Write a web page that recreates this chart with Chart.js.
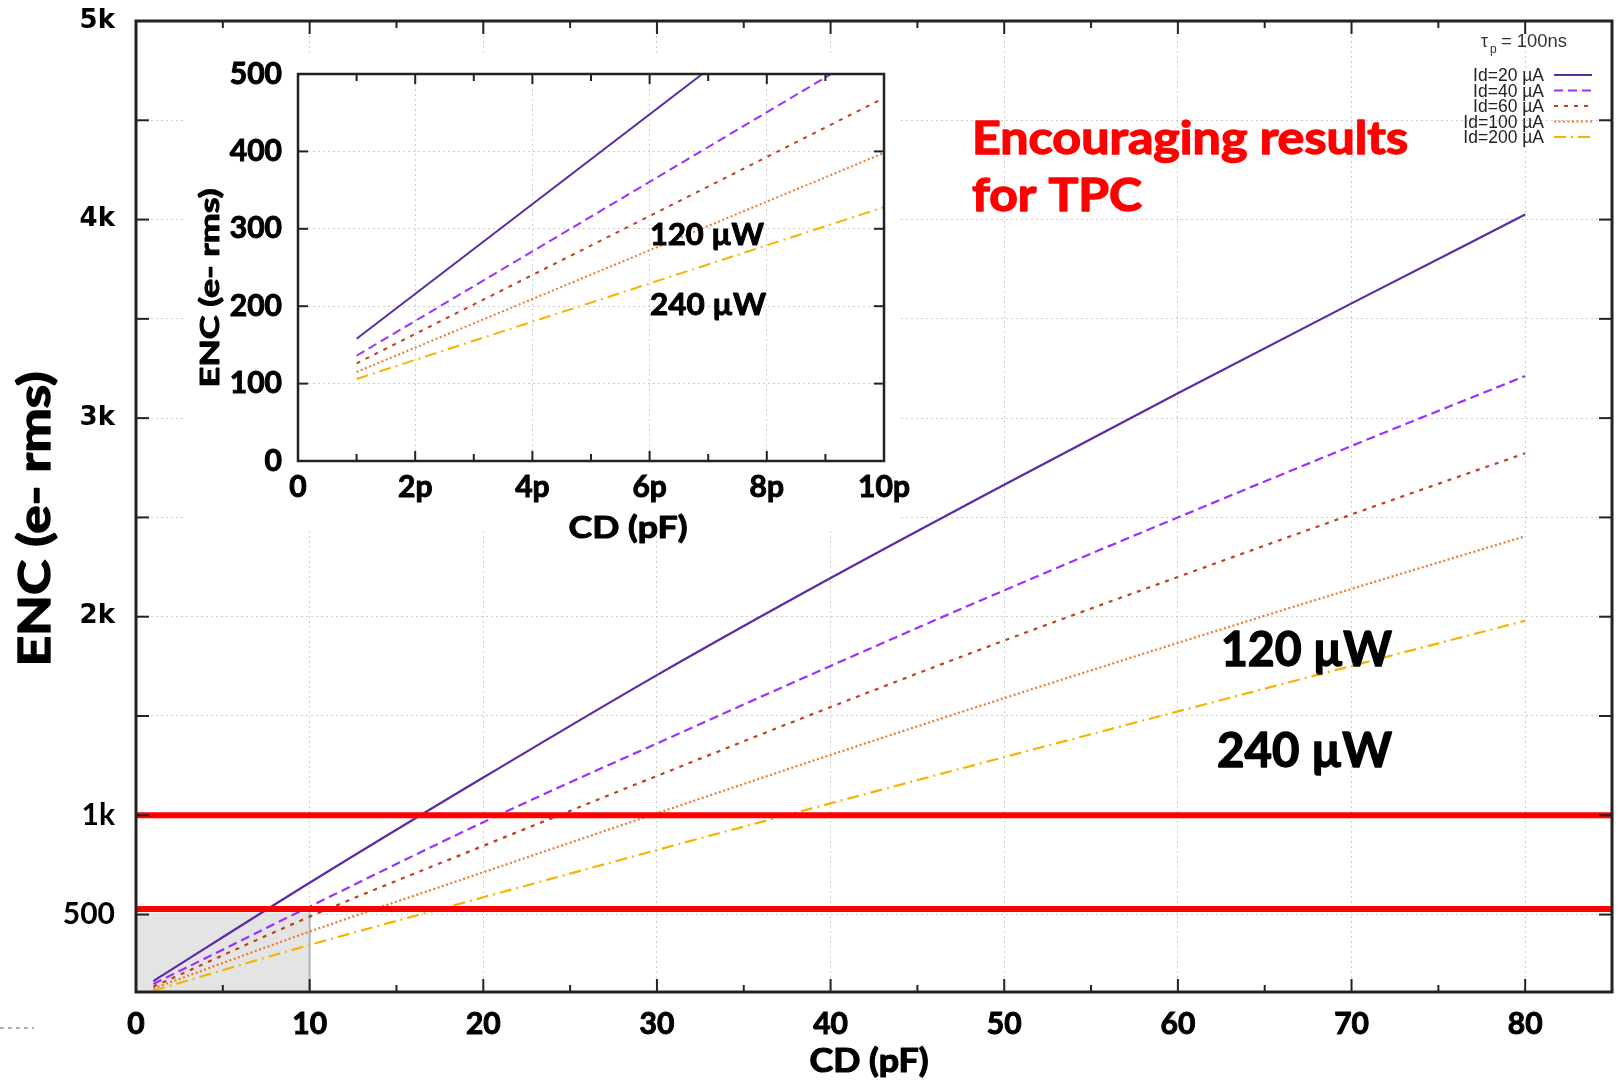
<!DOCTYPE html>
<html>
<head>
<meta charset="utf-8">
<title>ENC vs CD</title>
<script src="https://cdn.jsdelivr.net/npm/chart.js@4.4.1/dist/chart.umd.min.js"></script>
<style>
  html, body { margin: 0; padding: 0; background: #fff; }
  #page { position: relative; width: 1621px; height: 1080px; overflow: hidden; background: #fff; }
  #main { position: absolute; left: 0; top: 0; }
  #inset { position: absolute; left: 185px; top: 55px; }
</style>
</head>
<body>
<div id="page">
  <canvas id="main" width="1621" height="1080"></canvas>
  <canvas id="inset" width="740" height="490"></canvas>
</div>
<script>
// drain currents, one curve each
const seriesLabels = ['Id=20 µA', 'Id=40 µA', 'Id=60 µA', 'Id=100 µA', 'Id=200 µA'];

// main plot: ENC (e- rms) read at each CD (pF)
const cdMain = [1, 10, 20, 30, 40, 50, 60, 70, 80];
const encId20 = [165, 660, 1190, 1706, 2195, 2665, 3125, 3578, 4025];
const encId40 = [150, 540, 965, 1362, 1752, 2133, 2500, 2860, 3212];
const encId60 = [137, 489, 846, 1198, 1545, 1880, 2200, 2515, 2823];
const encId100 = [128, 414, 713, 1010, 1304, 1590, 1868, 2140, 2405];
const encId200 = [117, 347, 587, 825, 1060, 1293, 1523, 1752, 1980];

const mainYTicks = [500, 1000, 1500, 2000, 2500, 3000, 3500, 4000, 4500, 5000];
const mainYLabels = ['500', '1k', '', '2k', '', '3k', '', '4k', '', '5k'];
const limitLines = [1000, 528];     // red ENC limits
const zoomBox = [10, 510];          // shaded CD / ENC corner shown in the inset

// inset: 0-10 pF zoom (start and end of each curve)
const insetCd = [[1, 6.9], [1, 9.1], [1, 10], [1, 10], [1, 10]];
const insetEnc = [[158, 500], [136, 500], [126, 469], [115, 398], [106, 328]];
const insetXLabels = ['0', '', '2p', '', '4p', '', '6p', '', '8p', '', '10p'];

const lineColors = ['#5b2aa6', '#9b30ff', '#c0401e', '#ec7a2e', '#f4b400'];
const lineDashes = [[], [9, 5], [4, 6], [2, 2.5], [12, 5, 2, 5]];

const BOLD = 'Lato';

function line(ctx, x1, y1, x2, y2) {
  ctx.beginPath();
  ctx.moveTo(x1, y1);
  ctx.lineTo(x2, y2);
  ctx.stroke();
}

// text stretched to a given width (Gill Sans is not installed), optional extra weight
function text(ctx, s, x, y, font, color, align, width, heavy) {
  ctx.save();
  ctx.font = font;
  ctx.fillStyle = color;
  ctx.textAlign = 'left';
  ctx.textBaseline = 'alphabetic';
  const w = ctx.measureText(s).width;
  const sx = width ? width / w : 1;
  const dw = w * sx;
  const x0 = align === 'center' ? x - dw / 2 : align === 'right' ? x - dw : x;
  ctx.translate(x0, y);
  ctx.scale(sx, 1);
  if (heavy) {
    ctx.strokeStyle = color;
    ctx.lineWidth = heavy;
    ctx.lineJoin = 'round';
    ctx.strokeText(s, 0, 0);
  }
  ctx.fillText(s, 0, 0);
  ctx.restore();
}

function vtext(ctx, s, x, y, font, width, heavy) {
  ctx.save();
  ctx.translate(x, y);
  ctx.rotate(-Math.PI / 2);
  text(ctx, s, 0, 0, font, '#000', 'center', width, heavy);
  ctx.restore();
}

// gnuplot style: box frame with ticks pointing inwards
function drawFrame(chart, o) {
  const {ctx, chartArea: a, scales: {x, y}} = chart;
  ctx.save();
  ctx.strokeStyle = '#222';
  ctx.setLineDash([]);
  ctx.lineWidth = o.tickWidth;
  x.ticks.forEach(t => {
    const px = x.getPixelForValue(t.value);
    const len = t.value % o.xMajor === 0 ? o.major : o.minor;
    line(ctx, px, a.bottom, px, a.bottom - len);
    line(ctx, px, a.top, px, a.top + len);
  });
  y.ticks.forEach(t => {
    const py = y.getPixelForValue(t.value);
    line(ctx, a.left, py, a.left + o.major, py);
    line(ctx, a.right, py, a.right - o.major, py);
  });
  ctx.lineWidth = o.frameWidth;
  ctx.strokeRect(a.left, a.top, a.right - a.left, a.bottom - a.top);
  ctx.restore();
}

function makeDatasets(xs, ys, width) {
  return ys.map((vals, i) => ({
    label: seriesLabels[i],
    data: vals.map((v, j) => ({x: xs[i] ? xs[i][j] : cdMain[j], y: v})),
    borderColor: lineColors[i],
    borderDash: lineDashes[i],
    borderWidth: width,
    pointRadius: 0,
    cubicInterpolationMode: 'monotone',
    fill: false
  }));
}

// keep the plot box where the layout padding puts it
function noXPad(s, h) { s.height = h; s.paddingLeft = 0; s.paddingRight = 0; }
function noYPad(s, w) { s.width = w; s.paddingTop = 0; s.paddingBottom = 0; }

function whiteBg(w, h) {
  return {
    id: 'whiteBg',
    beforeDraw(chart) {
      const ctx = chart.ctx;
      ctx.save();
      ctx.fillStyle = '#fff';
      ctx.fillRect(0, 0, w || chart.width, h || chart.height);
      ctx.restore();
    }
  };
}

const mainDecor = {
  id: 'mainDecor',
  beforeDatasetsDraw(chart) {
    const {ctx, chartArea: a, scales: {x, y}} = chart;
    const bx = x.getPixelForValue(zoomBox[0]);
    const by = y.getPixelForValue(zoomBox[1]);
    ctx.save();
    ctx.fillStyle = '#e4e4e4';
    ctx.fillRect(a.left, by, bx - a.left, a.bottom - by);
    ctx.strokeStyle = '#b4b4b4';
    ctx.lineWidth = 2;
    line(ctx, bx, by, bx, a.bottom);
    ctx.restore();
  },
  afterDatasetsDraw(chart) {
    const {ctx, chartArea: a, scales: {y}} = chart;
    ctx.save();
    // red limit lines
    ctx.strokeStyle = '#ff0000';
    ctx.lineWidth = 6;
    limitLines.forEach(v => {
      const py = y.getPixelForValue(v);
      line(ctx, a.left, py, a.right, py);
    });

    // legend, top right
    const lf = '17.5px "Liberation Sans"';
    text(ctx, 'τ', 1481, 47, lf, '#333', 'left');
    text(ctx, 'p', 1490, 53, '12px "Liberation Sans"', '#333', 'left');
    text(ctx, '= 100ns', 1501, 47, lf, '#333', 'left', 66);
    chart.data.datasets.forEach((ds, i) => {
      const base = 81 + i * 15.5;
      text(ctx, ds.label, 1544, base, lf, '#222', 'right');
      ctx.strokeStyle = ds.borderColor;
      ctx.lineWidth = 2;
      ctx.setLineDash(ds.borderDash);
      line(ctx, 1554, base - 6, 1592, base - 6);
    });
    ctx.setLineDash([]);

    // annotations
    const big = 'bold 46px ' + BOLD;
    text(ctx, 'Encouraging results', 972, 154, big, '#ff0000', 'left', 436, 1.4);
    text(ctx, 'for TPC', 972, 211, big, '#ff0000', 'left', 170, 1.4);
    text(ctx, '120 µW', 1221, 666, 'bold 47px ' + BOLD, '#000', 'left', 171, 1.4);
    text(ctx, '240 µW', 1217, 767, 'bold 47px ' + BOLD, '#000', 'left', 175, 1.4);

    // axis titles
    text(ctx, 'CD (pF)', 869, 1072, 'bold 33px ' + BOLD, '#000', 'center', 119, 1.2);
    vtext(ctx, 'ENC (e- rms)', 50, 519, 'bold 44px ' + BOLD, 295, 1.4);

    // slide decoration, bottom left
    ctx.strokeStyle = '#9fb4cc';
    ctx.lineWidth = 2;
    ctx.setLineDash([4, 4]);
    line(ctx, 0, 1028, 34, 1028);
    ctx.restore();

    drawFrame(chart, {xMajor: 10, major: 13, minor: 7, tickWidth: 2, frameWidth: 3});
  }
};

const insetDecor = {
  id: 'insetDecor',
  afterDatasetsDraw(chart) {
    const ctx = chart.ctx;
    text(ctx, '120 µW', 465, 190, 'bold 30px ' + BOLD, '#000', 'left', 114, 1);
    text(ctx, '240 µW', 465, 260, 'bold 30px ' + BOLD, '#000', 'left', 116, 1);
    text(ctx, 'CD (pF)', 443, 483, 'bold 30px ' + BOLD, '#000', 'center', 119, 1);
    vtext(ctx, 'ENC (e- rms)', 34, 233, 'bold 26px ' + BOLD, 199, 1);
    drawFrame(chart, {xMajor: 2, major: 10, minor: 7, tickWidth: 2, frameWidth: 2.5});
  }
};

const gridColor = '#cdcdcd';
const clear = 'rgba(0,0,0,0)';
const tickFont = {family: BOLD, weight: 'bold', size: 30};

new Chart(document.getElementById('main').getContext('2d'), {
  type: 'line',
  data: {
    datasets: makeDatasets([], [encId20, encId40, encId60, encId100, encId200], 2.2)
  },
  options: {
    responsive: false,
    animation: false,
    devicePixelRatio: 1,
    layout: {padding: {top: 21, right: 9, left: 0, bottom: 0}},
    plugins: {legend: {display: false}, tooltip: {enabled: false}},
    scales: {
      x: {
        type: 'linear',
        min: 0,
        max: 85,
        afterFit: s => noXPad(s, 88),
        ticks: {
          stepSize: 5,
          autoSkip: false,
          maxRotation: 0,
          padding: 14,
          color: '#000',
          textStrokeColor: '#000',
          textStrokeWidth: 1,
          font: tickFont,
          callback: v => (v % 10 === 0 && v <= 80 ? String(v) : '')
        },
        grid: {
          drawTicks: false,
          lineWidth: 1,
          color: c => (c.tick && c.tick.value % 10 === 0 && c.tick.value > 0 && c.tick.value <= 80 ? gridColor : clear)
        },
        border: {display: false, dash: [2, 3]}
      },
      y: {
        type: 'linear',
        min: 110,
        max: 5000,
        afterFit: s => noYPad(s, 136),
        afterBuildTicks: s => { s.ticks = mainYTicks.map(v => ({value: v})); },
        ticks: {
          padding: 21,
          color: '#000',
          font: c => (c.tick && c.tick.value <= 1000
            ? tickFont
            : {family: 'DejaVu Sans', weight: 'bold', size: 26}),
          callback: (v, i) => mainYLabels[i]
        },
        grid: {
          drawTicks: false,
          lineWidth: 1,
          color: c => (c.tick && c.tick.value < 5000 ? gridColor : clear)
        },
        border: {display: false, dash: [2, 3]}
      }
    }
  },
  plugins: [whiteBg(), mainDecor]
});

new Chart(document.getElementById('inset').getContext('2d'), {
  type: 'line',
  data: {
    datasets: makeDatasets(insetCd, insetEnc, 2)
  },
  options: {
    responsive: false,
    animation: false,
    devicePixelRatio: 1,
    layout: {padding: {top: 19, right: 41, left: 0, bottom: 0}},
    plugins: {legend: {display: false}, tooltip: {enabled: false}},
    scales: {
      x: {
        type: 'linear',
        min: 0,
        max: 10,
        afterFit: s => noXPad(s, 84),
        ticks: {
          stepSize: 1,
          autoSkip: false,
          maxRotation: 0,
          padding: 8,
          color: '#000',
          textStrokeColor: '#000',
          textStrokeWidth: 1,
          font: tickFont,
          callback: (v, i) => insetXLabels[i]
        },
        grid: {
          drawTicks: false,
          lineWidth: 1,
          color: c => (c.tick && c.tick.value % 2 === 0 && c.tick.value > 0 && c.tick.value < 10 ? gridColor : clear)
        },
        border: {display: false, dash: [2, 3]}
      },
      y: {
        type: 'linear',
        min: 0,
        max: 500,
        afterFit: s => noYPad(s, 113),
        ticks: {
          stepSize: 100,
          padding: 16,
          color: '#000',
          textStrokeColor: '#000',
          textStrokeWidth: 1,
          font: tickFont
        },
        grid: {
          drawTicks: false,
          lineWidth: 1,
          color: c => (c.tick && c.tick.value > 0 && c.tick.value < 500 ? gridColor : clear)
        },
        border: {display: false, dash: [2, 3]}
      }
    }
  },
  plugins: [whiteBg(715, 476), insetDecor]
});
</script>
</body>
</html>
